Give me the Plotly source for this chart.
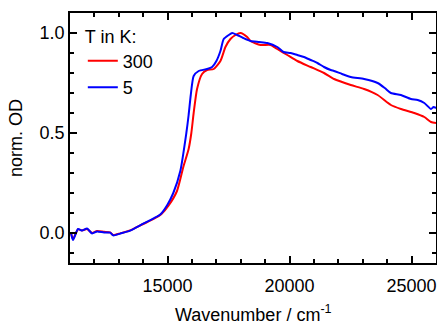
import plotly.graph_objects as go

# 5 K (blue)
wn_5 = [11041, 11123, 11329, 11493, 11699, 11904, 12110, 12397, 12644, 12767, 13055, 13466,
        14000, 14411, 14699, 14987, 15233, 15521, 15768, 15862, 15950, 16068, 16273, 16619,
        16824, 17000, 17165, 17300, 17506, 17646, 17852, 18100, 18398, 18750, 19084, 19495,
        19750, 20042, 20317, 20589, 20864, 21140, 21411, 21685, 21822, 22150, 22508, 23055,
        23606, 23900, 24152, 24563, 24974, 25250, 25521, 25796, 25900, 26000]
od_5 = [0.0, -0.035, 0.02, 0.012, 0.022, -0.002, 0.008, 0.002, 0.002, -0.012, -0.003, 0.012,
        0.047, 0.072, 0.092, 0.14, 0.20, 0.31, 0.50, 0.59, 0.69, 0.785, 0.81, 0.82,
        0.83, 0.86, 0.91, 0.97, 0.99, 1.0, 0.99, 0.975, 0.96, 0.955, 0.95, 0.93,
        0.905, 0.90, 0.89, 0.88, 0.865, 0.85, 0.83, 0.815, 0.81, 0.795, 0.78, 0.77,
        0.75, 0.725, 0.70, 0.69, 0.67, 0.665, 0.65, 0.62, 0.63, 0.625]

# 300 K (red)
wn_300 = [11041, 11123, 11329, 11493, 11699, 11904, 12110, 12397, 12644, 12767, 13055, 13466,
          14000, 14424, 14750, 15028, 15385, 15644, 15862, 15973, 16068, 16207, 16413, 16619,
          16890, 17165, 17370, 17576, 17781, 17987, 18262, 18398, 18809, 19220, 19495, 19906,
          20317, 20864, 21411, 21822, 22508, 23055, 23606, 24152, 24563, 25110, 25521, 25796,
          26000]
od_300 = [0.0, -0.03, 0.018, 0.013, 0.02, 0.0, 0.01, 0.006, 0.003, -0.01, -0.002, 0.013,
          0.045, 0.07, 0.095, 0.135, 0.21, 0.33, 0.42, 0.50, 0.60, 0.72, 0.795, 0.815,
          0.82, 0.86, 0.93, 0.97, 0.99, 1.0, 0.98, 0.96, 0.94, 0.94, 0.92, 0.89,
          0.86, 0.83, 0.80, 0.77, 0.74, 0.72, 0.69, 0.64, 0.62, 0.60, 0.58, 0.555,
          0.55]

x_ticks = [15000, 20000, 25000]
x_tick_labels = ["15000", "20000", "25000"]
y_ticks = [0.0, 0.5, 1.0]
y_tick_labels = ["0.0", "0.5", "1.0"]

font_family = "Liberation Sans, Arial, sans-serif"
FS = 18

fig = go.Figure()
fig.add_trace(go.Scatter(x=wn_300, y=od_300, mode="lines", name="300",
                         line=dict(color="#ff0000", width=2, shape="spline", smoothing=0.6)))
fig.add_trace(go.Scatter(x=wn_5, y=od_5, mode="lines", name="5",
                         line=dict(color="#0000ff", width=2, shape="spline", smoothing=0.6)))

axis_common = dict(showline=True, linecolor="black", linewidth=1.5, mirror="ticks",
                   ticks="inside", ticklen=7, tickwidth=1.5, tickcolor="black",
                   showgrid=False, zeroline=False, automargin=False,
                   tickfont=dict(family=font_family, size=FS, color="black"))

fig.update_xaxes(range=[11000, 26000], tickvals=x_ticks, ticktext=x_tick_labels,
                 ticklabelstandoff=6,
                 minor=dict(dtick=1000, ticks="inside", ticklen=4, tickwidth=1.5, tickcolor="black"),
                 **axis_common)
fig.update_yaxes(range=[-0.15, 1.1], tickvals=y_ticks, ticktext=y_tick_labels,
                 minor=dict(dtick=0.1, ticks="inside", ticklen=4, tickwidth=1.5, tickcolor="black"),
                 **axis_common)

fig.add_annotation(text="Wavenumber / cm<sup>-1</sup>", xref="paper", yref="paper",
                   x=0.5, y=0, xanchor="center", yanchor="top", yshift=-37,
                   showarrow=False, font=dict(family=font_family, size=FS, color="black"))
fig.add_annotation(text="norm. OD", xref="paper", yref="paper",
                   x=0, y=0.5, xanchor="center", yanchor="middle", xshift=-54,
                   textangle=-90, showarrow=False,
                   font=dict(family=font_family, size=FS, color="black"))

fig.update_layout(
    width=437, height=327,
    margin=dict(l=70, r=1, t=13, b=64, autoexpand=False),
    paper_bgcolor="white", plot_bgcolor="white",
    showlegend=True,
    legend=dict(x=0.035, y=0.975, xanchor="left", yanchor="top",
                bgcolor="rgba(0,0,0,0)",
                title=dict(text="T in K:", font=dict(family=font_family, size=FS, color="black")),
                font=dict(family=font_family, size=FS, color="black"),
                tracegroupgap=0),
)

fig.write_html("out.html", config={"displayModeBar": False},
               post_script="document.body.style.margin='0';document.body.style.padding='0';")
